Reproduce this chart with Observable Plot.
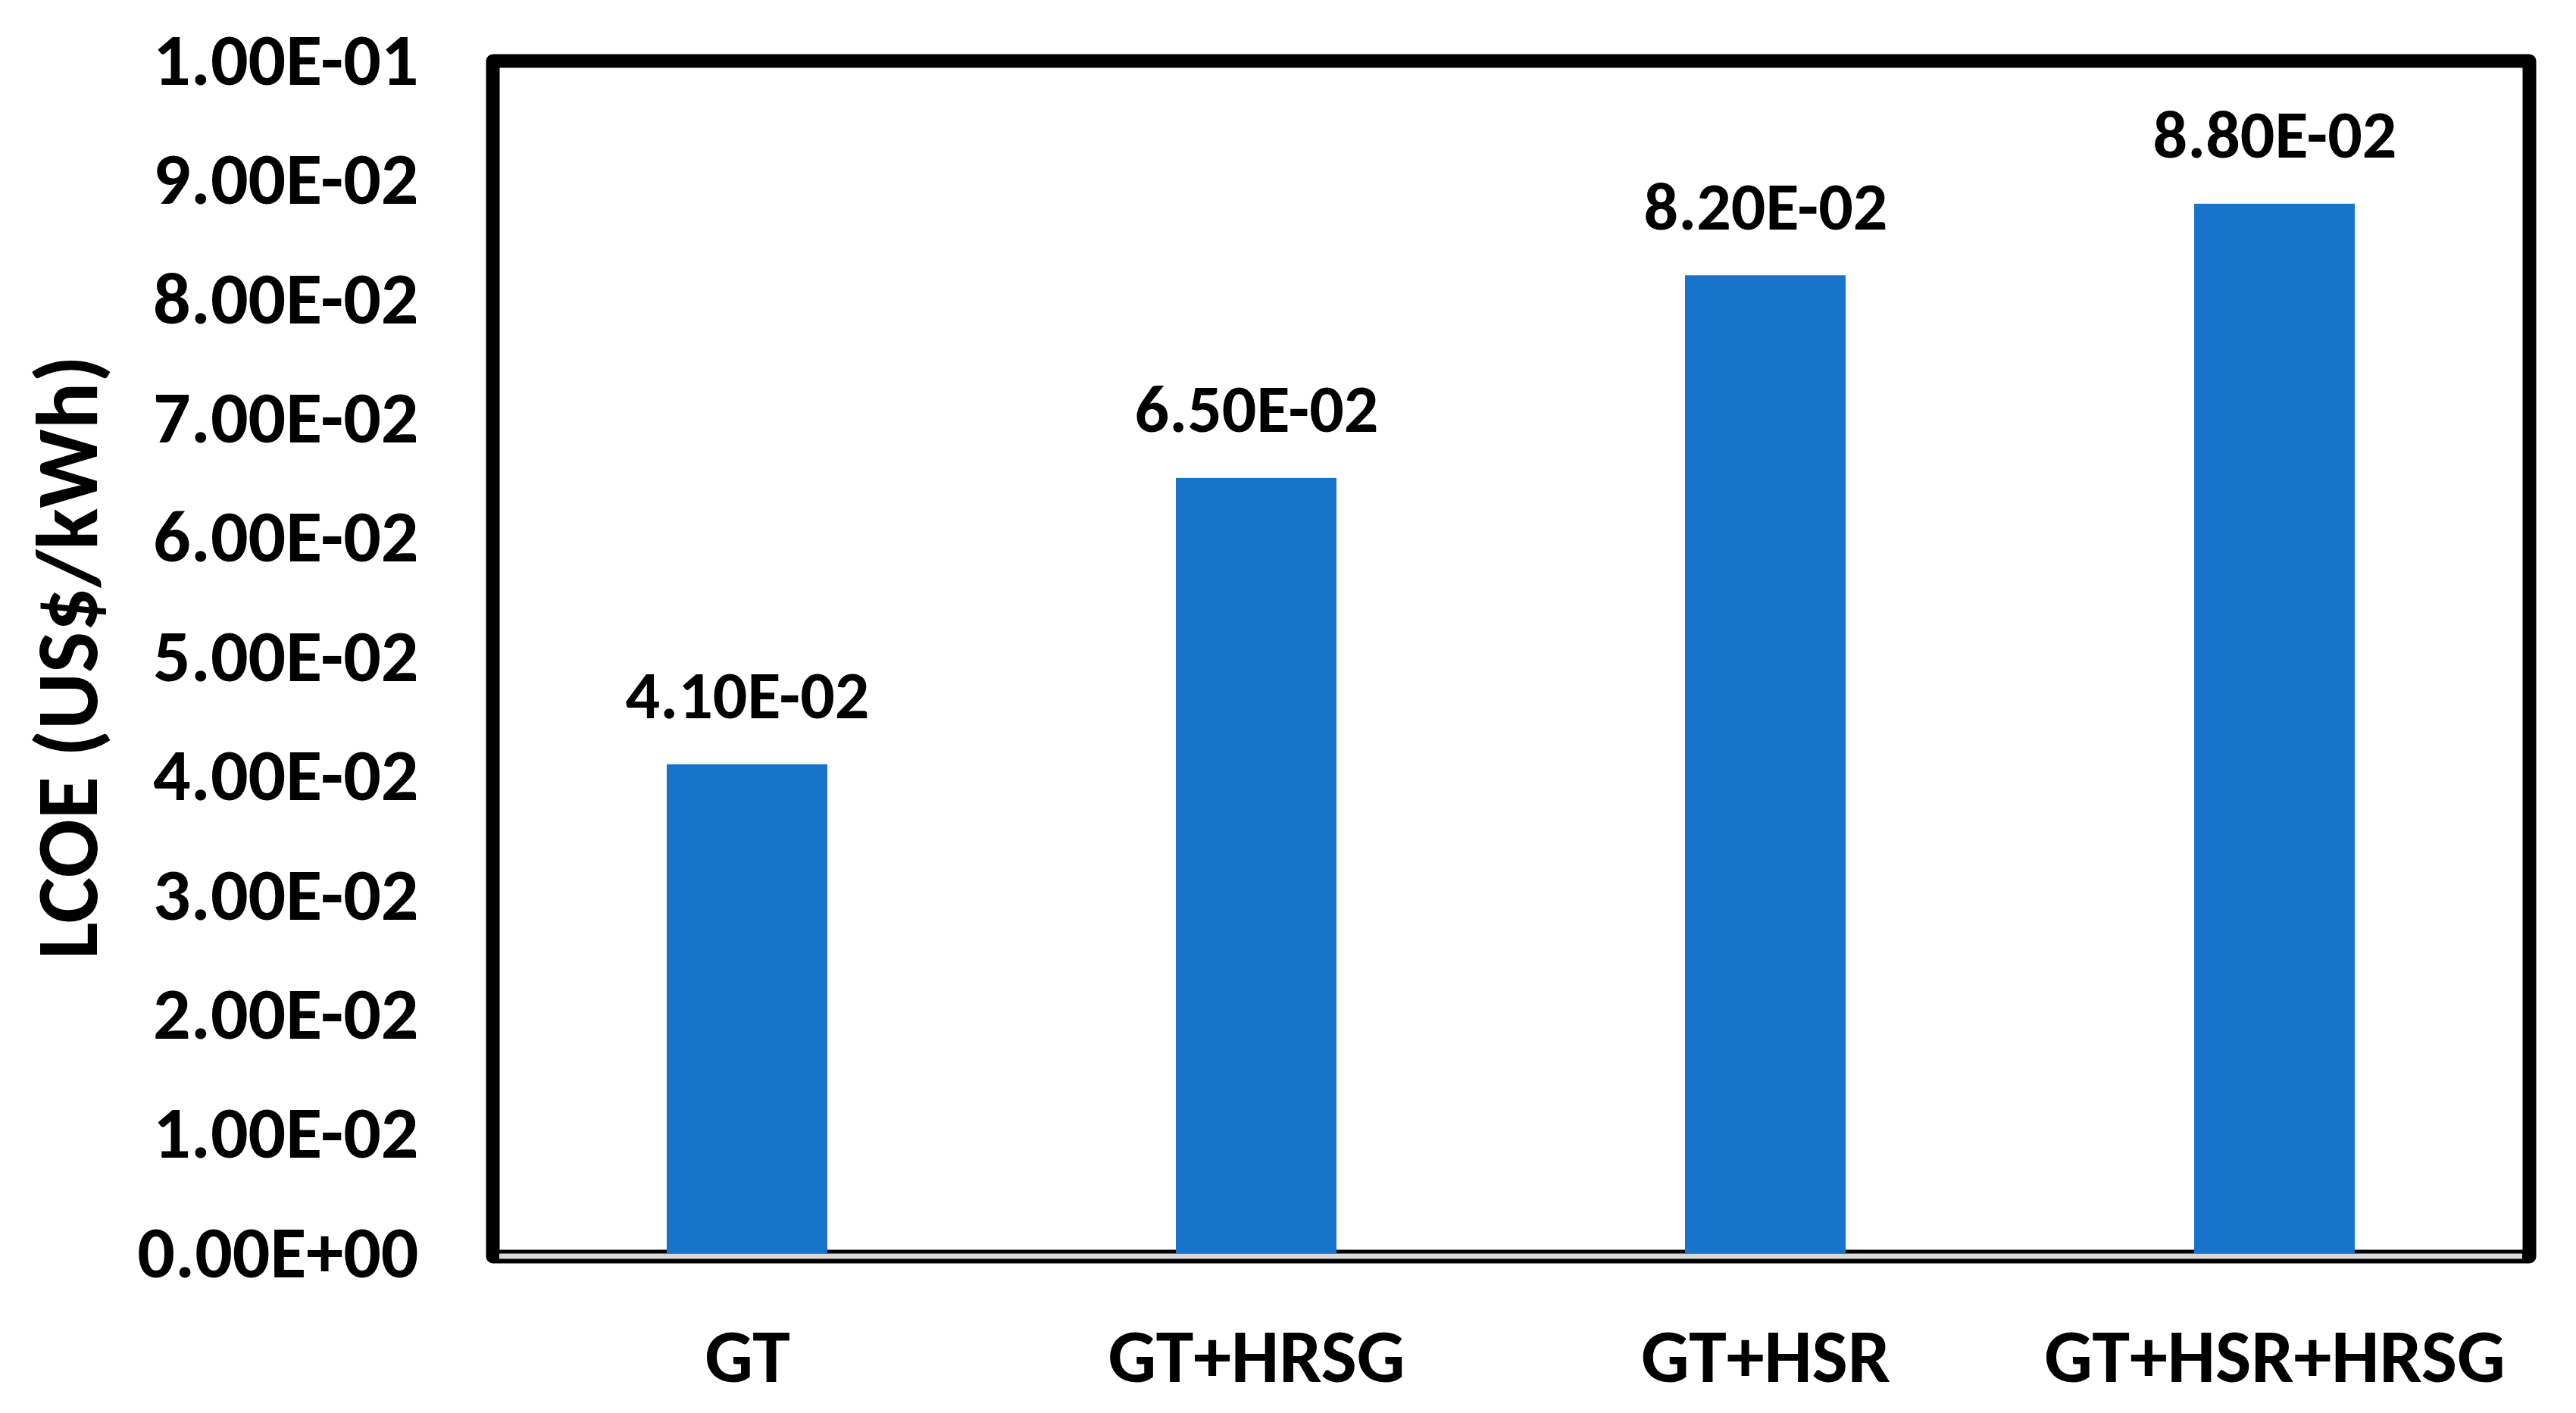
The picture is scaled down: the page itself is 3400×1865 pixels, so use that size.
<!DOCTYPE html>
<html><head><meta charset="utf-8">
<script src="https://cdn.jsdelivr.net/npm/d3@7"></script>
<script src="https://cdn.jsdelivr.net/npm/@observablehq/plot@0.6"></script>
<style>html,body{margin:0;padding:0;background:#fff;} svg{display:block}</style>
</head><body><div id="chart"></div>
<script>
const categories = ["GT", "GT+HRSG", "GT+HSR", "GT+HSR+HRSG"];
const lcoe = [0.041, 0.065, 0.082, 0.088];
const valueLabels = ["4.10E-02", "6.50E-02", "8.20E-02", "8.80E-02"];
const yTicks = [0, 0.01, 0.02, 0.03, 0.04, 0.05, 0.06, 0.07, 0.08, 0.09, 0.1];
const yTickLabels = ["0.00E+00", "1.00E-02", "2.00E-02", "3.00E-02", "4.00E-02", "5.00E-02",
  "6.00E-02", "7.00E-02", "8.00E-02", "9.00E-02", "1.00E-01"];
const yLabel = "LCOE (US$/kWh)";

const data = categories.map((c, i) => ({category: c, value: lcoe[i], label: valueLabels[i]}));
const font = "Carlito, Lato, sans-serif";

const chart = Plot.plot({
  width: 3400, height: 1865,
  marginLeft: 650, marginRight: 62, marginTop: 80, marginBottom: 211,
  style: {fontFamily: font, fontWeight: "bold", background: "white", color: "black"},
  x: {domain: categories, paddingInner: 0.685, paddingOuter: 0.3425},
  y: {domain: [0, 0.1]},
  marks: [
    Plot.frame({stroke: "black", strokeWidth: 18, insetBottom: -4, strokeLinejoin: "round"}),
    Plot.barY(data, {x: "category", y: "value", fill: "#1874CB"}),
    Plot.ruleY([0], {stroke: "#d9d9d9", strokeWidth: 7, dy: 3.5, insetLeft: 9, insetRight: 9}),
    Plot.axisY(yTicks, {tickSize: 0, tickPadding: 98, fontSize: 98, label: null,
      tickFormat: d => yTickLabels[Math.round(d * 100)]}),
    Plot.axisX({tickSize: 0, tickPadding: 98, fontSize: 100, label: null}),
    Plot.text(data, {x: "category", y: "value", text: "label", dy: -90, lineAnchor: "middle", fontSize: 90}),
    Plot.text([yLabel], {frameAnchor: "left", textAnchor: "middle", rotate: -90, dx: -559, fontSize: 115, lineAnchor: "middle"})
  ]
});
document.getElementById("chart").appendChild(chart);
</script>
</body></html>
